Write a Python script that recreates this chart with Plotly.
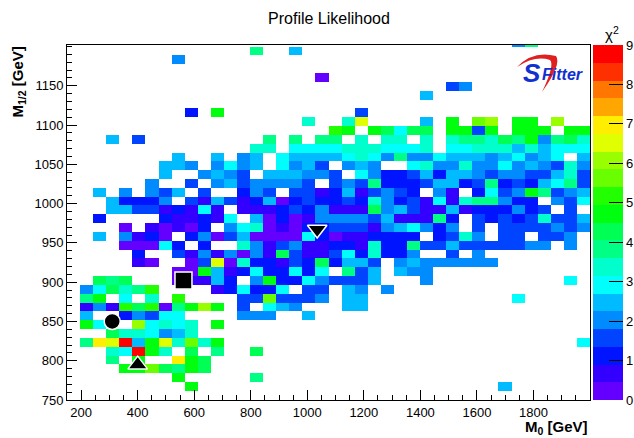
import colorsys
import plotly.graph_objects as go

TITLE = "Profile Likelihood"
X_TITLE = "M<sub>0</sub> [GeV]"
Y_TITLE = "M<sub>1/2</sub> [GeV]"
Z_TITLE = "χ<sup>2</sup>"

# binning of the 2D histogram (40 x-bins over 150..2000, 11.25 GeV y-bins from 750)
X_EDGE_MIN, X_BIN, N_X = 150.0, 46.25, 40
Y_EDGE_MIN, Y_BIN = 750.0, 11.25
X_RANGE = [150, 2000]
Y_RANGE = [750, 1202]
CHI2_MAX, N_LEVELS = 9.0, 20

x_tick_vals = [200, 400, 600, 800, 1000, 1200, 1400, 1600, 1800]
y_tick_vals = [750, 800, 850, 900, 950, 1000, 1050, 1100, 1150]
z_tick_vals = [0, 1, 2, 3, 4, 5, 6, 7, 8, 9]

# chi2 level read per cell: '.' empty, '0'..'9','a'..'j' = contour level 0..19
LEVEL_CODES = "0123456789abcdefghij"
# rows from top y-bin (1200-1211.25) down to bottom y-bin (750-761.25); '|' every 10 columns
chi2_level_rows = [
    "..........|..........|..........|....48....",
    "..........|....8..5..|..........|..........",
    "........4.|..........|..........|..........",
    "..........|..........|..........|..........",
    "..........|.........0|..........|..........",
    "..........|..........|.........3|4.........",
    "..........|..........|.......5..|..........",
    "..........|..........|..........|..........",
    ".........2|.a........|..3.......|..........",
    "..........|........7.|.7e....5.a|.cd.aa.d..",
    "..........|..........|ba.a9699.a|a3a.aaa.aa",
    "...5.3....|.....8.8.8|8.7.77.7.7|88798a4897",
    "..........|....77.666|67776667.6|6777575666",
    "........5.|.5.45.6555|5676484465|55456456.5",
    ".......554|.4645.6453|.454..6744|7446454374",
    ".......5..|4543.55544|3.64223525|5434433573",
    "......4..3|.45344443.|3438222355|2382325683",
    "..5.4.435.|3..243.331|2513432.41|.2634a8345",
    "...52224.3|1531250232|2327423161|788422.436",
    "...5533121|61.1112324|1119453115|1222423.3.",
    "..2....211|216.502014|4443511182|.323237335",
    "....0.1010|2.46701022|3331456424|.3.3333434",
    "..5.4120.2|4035000062|0112222.23|74.33.334.",
    "....00062.|2..7413411|2217228335|3333344.4.",
    ".....2..31|4140419311|3627224..3|.4........",
    ".....10..0|3e07221329|2553.45444|444.......",
    "........00|a512622626|.835.544..|..........",
    "..989...01|152.4a2264|3335...4..|........6.",
    ".46978b...|.126226.33|.54.4.....|..........",
    ".8a.6.7.b.|...33c3334|.55.......|....6.....",
    ".141b9b08a|da.3.654..|.55.......|..........",
    ".5..24366.|...444..5.|..........|..........",
    ".a6..d6767|.a........|..........|..........",
    "...9776457|..........|..........|..........",
    ".8fej5ae7c|7a........|..........|.........6",
    "...76ja7.9|.8..9.....|..........|..........",
    "...8.a..fa|9.........|..........|..........",
    "....aac98a|9.........|..........|..........",
    "........a.|....8.....|..........|..........",
    ".........a|..........|..........|...5......",
    "..........|..........|..........|..........",
]

# best-fit points (symbol, M0, M1/2)
point_symbols = ["circle", "square", "triangle-up", "triangle-down"]
point_m0 = [310, 562, 400, 1035]
point_m12 = [850, 902, 795, 967]
point_sizes = [16, 17, 17, 17]

FONT = "Liberation Sans, Arial, sans-serif"


def level_color(level):
    # ROOT "pretty" palette (50 colours, violet -> red) sampled for 20 contours
    idx = int((level + 0.99) * 50 / N_LEVELS)
    hue = 280.0 - (idx + 1) * (280.0 / 50)
    r, g, b = colorsys.hls_to_rgb(hue / 360.0, 0.5, 1.0)
    return "rgb(%d,%d,%d)" % (round(r * 255), round(g * 255), round(b * 255))


colorscale = []
for lv in range(N_LEVELS):
    c = level_color(lv)
    colorscale.append([lv / N_LEVELS, c])
    colorscale.append([(lv + 1) / N_LEVELS, c])

n_rows = len(chi2_level_rows)
z = []
for row in reversed(chi2_level_rows):
    cells = row.replace("|", "")
    z.append([None if ch == "." else (LEVEL_CODES.index(ch) + 0.5) * CHI2_MAX / N_LEVELS
              for ch in cells])
x_centers = [X_EDGE_MIN + (i + 0.5) * X_BIN for i in range(N_X)]
y_centers = [Y_EDGE_MIN + (j + 0.5) * Y_BIN for j in range(n_rows)]

fig = go.Figure()
fig.add_trace(go.Heatmap(
    x=x_centers, y=y_centers, z=z,
    zmin=0, zmax=CHI2_MAX, colorscale=colorscale,
    hoverongaps=False,
    colorbar=dict(
        thickness=30, len=1, lenmode="fraction", y=0.5, yanchor="middle",
        x=1.005, xanchor="left", xpad=0, ypad=0, outlinewidth=0,
        tickmode="array", tickvals=z_tick_vals, ticks="inside", ticklen=14,
        tickcolor="black", tickwidth=1,
        tickfont=dict(family=FONT, size=13, color="black"),
    ),
))

fig.add_trace(go.Scatter(
    x=point_m0, y=point_m12, mode="markers",
    marker=dict(symbol=point_symbols, size=point_sizes, color="black", opacity=1,
                line=dict(color="white", width=1.5)),
    showlegend=False, hoverinfo="skip",
))

axis_common = dict(showgrid=False, zeroline=False, showline=True, linecolor="black",
                   linewidth=1, mirror=True, ticks="inside", tickcolor="black",
                   tickfont=dict(family=FONT, size=13, color="black"))
fig.update_xaxes(range=X_RANGE, tickmode="array", tickvals=x_tick_vals, ticklen=10,
                 minor=dict(tickmode="array",
                            tickvals=[v for v in range(150, 2001, 50) if v not in x_tick_vals],
                            ticklen=5, ticks="inside", tickcolor="black"),
                 **axis_common)
fig.update_yaxes(range=Y_RANGE, tickmode="array", tickvals=y_tick_vals, ticklen=10,
                 minor=dict(tickmode="array",
                            tickvals=[v for v in range(750, 1201, 10) if v not in y_tick_vals],
                            ticklen=5, ticks="inside", tickcolor="black"),
                 **axis_common)

# pixel -> paper helpers for decorations
PL, PR, PT, PB = 67, 590, 45, 400


def px(xp):
    return (xp - PL) / (PR - PL)


def py(yp):
    return (PB - yp) / (PB - PT)


annotations = [
    dict(text="<b>" + X_TITLE + "</b>", x=1.0, y=py(428), xref="paper", yref="paper",
         xanchor="right", yanchor="middle", showarrow=False,
         font=dict(family=FONT, size=15, color="black")),
    dict(text="<b>" + Y_TITLE + "</b>", x=px(18), y=1.0, xref="paper", yref="paper",
         xanchor="center", yanchor="top", textangle=-90, showarrow=False,
         font=dict(family=FONT, size=15, color="black")),
    dict(text=Z_TITLE, x=px(612), y=py(33), xref="paper", yref="paper", xanchor="center",
         yanchor="middle", showarrow=False, font=dict(family=FONT, size=15, color="black")),
    dict(text="<b><i>S</i></b>", x=px(532), y=py(73), xref="paper", yref="paper",
         xanchor="center", yanchor="middle", showarrow=False,
         font=dict(family=FONT, size=26, color="#1030d0")),
    dict(text="<b><i>Fitter</i></b>", x=px(562), y=py(74), xref="paper", yref="paper",
         xanchor="center", yanchor="middle", showarrow=False,
         font=dict(family=FONT, size=16, color="#1030d0")),
]

pts = [(517, 67), (533, 50), (556, 56), (562, 64), (542, 92), (555, 65), (550, 60), (535, 55), (517, 67)]
P = [(px(a), py(b)) for a, b in pts]
swoosh = ("M %f,%f Q %f,%f %f,%f Q %f,%f %f,%f Q %f,%f %f,%f Q %f,%f %f,%f Z" %
          tuple(v for p in P for v in p))

fig.update_layout(
    width=634, height=438,
    margin=dict(l=PL, r=634 - PR, t=PT, b=438 - PB, autoexpand=False),
    paper_bgcolor="white", plot_bgcolor="white",
    title=dict(text=TITLE, x=px(329), xref="paper", xanchor="center", y=1 - 18 / 438,
               yanchor="middle", font=dict(family=FONT, size=16, color="black")),
    annotations=annotations,
    shapes=[dict(type="path", path=swoosh, xref="paper", yref="paper",
                 fillcolor="#e02020", line=dict(width=0), layer="below")],
    showlegend=False,
)

fig.write_html("out.html", config={"displayModeBar": False},
               post_script="document.body.style.margin='0';")
